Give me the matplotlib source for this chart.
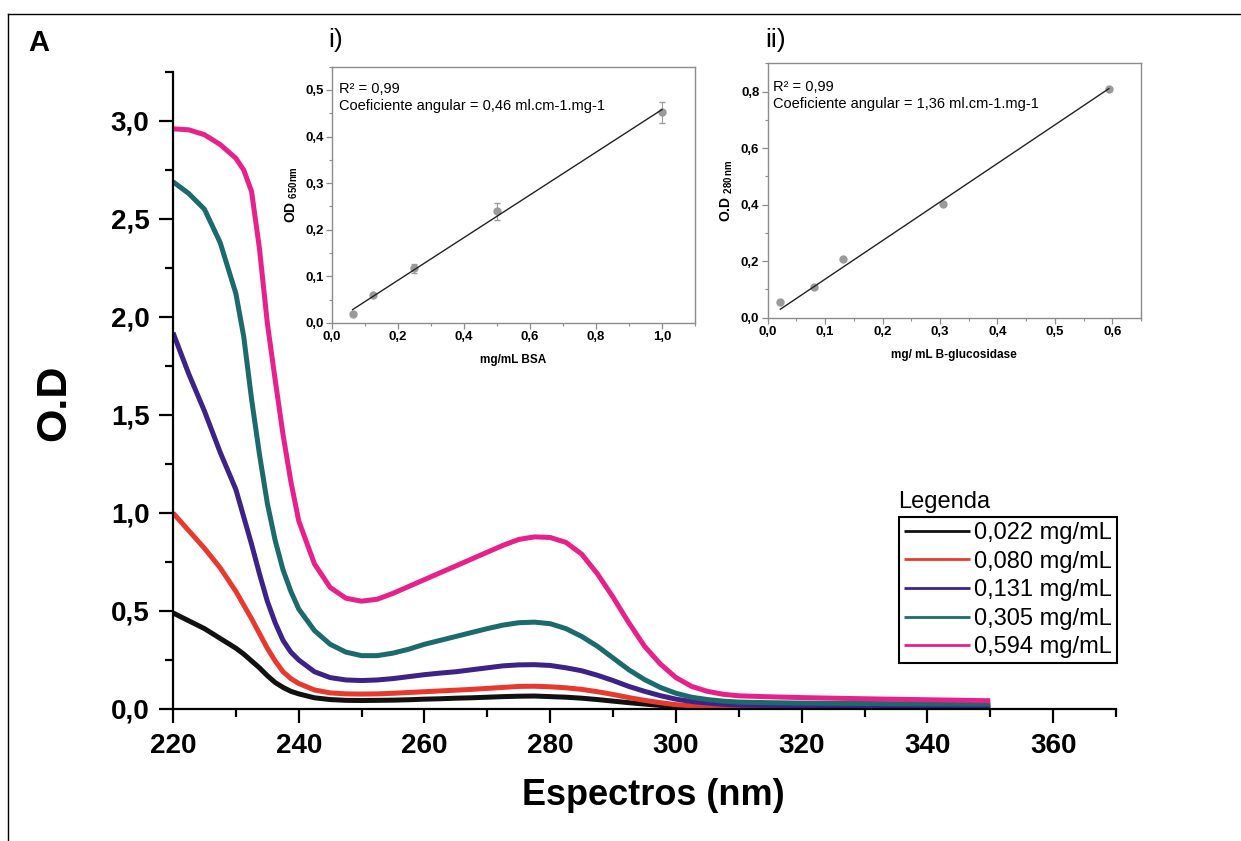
import matplotlib
matplotlib.use("Agg")
import matplotlib.pyplot as plt
from matplotlib.lines import Line2D
from matplotlib.ticker import MultipleLocator, FuncFormatter
import numpy as np

plt.rcParams["font.family"] = ["Liberation Sans", "DejaVu Sans"]
plt.rcParams["mathtext.default"] = "regular"

## Spectra data ##
wavelength = [220, 222.5, 225, 227.5, 230, 231.25, 232.5, 233.75, 235, 236.25, 237.5,
              238.75, 240, 242.5, 245, 247.5, 250, 252.5, 255, 257.5, 260, 262.5, 265,
              267.5, 270, 272.5, 275, 277.5, 280, 282.5, 285, 287.5, 290, 292.5, 295,
              297.5, 300, 302.5, 305, 307.5, 310, 315, 320, 330, 340, 350]
od_0022 = [0.49, 0.45, 0.41, 0.36, 0.31, 0.28, 0.245, 0.21, 0.17, 0.135, 0.11,
           0.09, 0.077, 0.057, 0.048, 0.044, 0.043, 0.044, 0.045, 0.047, 0.05, 0.052, 0.055,
           0.057, 0.06, 0.063, 0.065, 0.066, 0.063, 0.06, 0.055, 0.048, 0.04, 0.032, 0.025,
           0.018, 0.012, 0.008, 0.006, 0.005, 0.004, 0.004, 0.004, 0.004, 0.004, 0.004]
od_0080 = [1.0, 0.91, 0.82, 0.72, 0.60, 0.53, 0.46, 0.385, 0.31, 0.245, 0.19,
           0.155, 0.13, 0.097, 0.082, 0.077, 0.076, 0.077, 0.08, 0.084, 0.088, 0.092, 0.096,
           0.10, 0.105, 0.11, 0.115, 0.116, 0.113, 0.108, 0.10, 0.088, 0.074, 0.058, 0.044,
           0.032, 0.022, 0.016, 0.012, 0.01, 0.008, 0.007, 0.007, 0.007, 0.007, 0.007]
od_0131 = [1.92, 1.71, 1.52, 1.31, 1.12, 0.98, 0.84, 0.69, 0.55, 0.44, 0.35,
           0.29, 0.25, 0.19, 0.16, 0.148, 0.145, 0.148, 0.155, 0.165, 0.175, 0.183, 0.19,
           0.20, 0.21, 0.22, 0.225, 0.226, 0.222, 0.21, 0.195, 0.172, 0.145, 0.115, 0.09,
           0.068, 0.05, 0.038, 0.03, 0.024, 0.02, 0.018, 0.017, 0.016, 0.015, 0.015]
od_0305 = [2.69, 2.63, 2.55, 2.38, 2.12, 1.90, 1.58, 1.30, 1.05, 0.86, 0.71,
           0.60, 0.51, 0.40, 0.33, 0.29, 0.272, 0.272, 0.285, 0.305, 0.33, 0.35, 0.37,
           0.39, 0.41, 0.428, 0.44, 0.443, 0.435, 0.41, 0.37, 0.32, 0.26, 0.20, 0.15,
           0.11, 0.08, 0.06, 0.048, 0.04, 0.035, 0.032, 0.03, 0.028, 0.026, 0.025]
od_0594 = [2.96, 2.955, 2.93, 2.88, 2.81, 2.75, 2.64, 2.35, 1.97, 1.68, 1.40,
           1.16, 0.96, 0.74, 0.62, 0.565, 0.55, 0.56, 0.59, 0.625, 0.66, 0.695, 0.73,
           0.765, 0.80, 0.835, 0.865, 0.878, 0.875, 0.85, 0.79, 0.69, 0.57, 0.44, 0.32,
           0.23, 0.16, 0.115, 0.09, 0.075, 0.067, 0.062, 0.058, 0.052, 0.047, 0.042]

series = [od_0022, od_0080, od_0131, od_0305, od_0594]
series_labels = ["0,022 mg/mL", "0,080 mg/mL", "0,131 mg/mL", "0,305 mg/mL", "0,594 mg/mL"]
series_colors = ["#111111", "#e8392e", "#3d2387", "#1c6b6c", "#e8208a"]

## Standard curves (insets) ##
bsa_conc = [0.0625, 0.125, 0.25, 0.5, 1.0]
bsa_od = [0.02, 0.06, 0.117, 0.24, 0.452]
bsa_err = [0.003, 0.003, 0.01, 0.018, 0.022]

gluc_conc = [0.022, 0.080, 0.131, 0.305, 0.594]
gluc_od = [0.057, 0.108, 0.207, 0.403, 0.81]


def comma(decimals):
    return FuncFormatter(lambda v, pos: f"{v:.{decimals}f}".replace(".", ","))


def origin_fit(x, y):
    # linear fit forced through the origin
    x = np.asarray(x)
    y = np.asarray(y)
    return np.sum(x * y) / np.sum(x * x)


fig = plt.figure(figsize=(12.41, 8.41), dpi=100)

# outer frame (top and left)
fig.add_artist(Line2D([0.0064, 1.0], [0.9834, 0.9834], color="black", lw=1.0))
fig.add_artist(Line2D([0.0064, 0.0064], [0.0, 0.9834], color="black", lw=1.0))
fig.text(0.0314, 0.949, "A", fontsize=21, fontweight="bold", ha="center", va="center")

## Main spectra ##
ax = fig.add_axes([0.1394, 0.157, 0.7599, 0.7574])
for values, label, color in zip(series, series_labels, series_colors):
    ax.plot(wavelength, values, color=color, lw=3.6, label=label,
            solid_capstyle="butt", solid_joinstyle="round")

ax.set_xlim(220, 370)
ax.set_ylim(0, 3.25)
ax.spines["top"].set_visible(False)
ax.spines["right"].set_visible(False)
for side in ["left", "bottom"]:
    ax.spines[side].set_linewidth(1.6)
ax.xaxis.set_major_locator(MultipleLocator(20))
ax.xaxis.set_minor_locator(MultipleLocator(10))
ax.yaxis.set_major_locator(MultipleLocator(0.5))
ax.yaxis.set_minor_locator(MultipleLocator(0.25))
ax.yaxis.set_major_formatter(comma(1))
ax.tick_params(which="major", direction="out", length=10, width=1.6, labelsize=20, pad=7)
ax.tick_params(which="minor", direction="out", length=6, width=1.6)
plt.setp(ax.get_xticklabels() + ax.get_yticklabels(), fontweight="bold")

ax.set_xlabel("Espectros (nm)", fontsize=26, fontweight="bold")
ax.set_ylabel("O.D", fontsize=31, fontweight="bold")
ax.xaxis.set_label_coords(0.509, -0.108)
ax.yaxis.set_label_coords(-0.105, 0.48)

leg = ax.legend(loc="upper right", bbox_to_anchor=(1.001, 0.301), fontsize=17,
                frameon=True, fancybox=False, framealpha=1, edgecolor="black",
                handlelength=2.8, handletextpad=0.2, borderpad=0.2,
                labelspacing=0.28, borderaxespad=0)
leg.get_frame().set_linewidth(1.5)
for handle in leg.get_lines():
    handle.set_linewidth(2.0)
fig.text(0.7236, 0.403, "Legenda", fontsize=17, ha="left", va="center")

## Inset i: BSA ##
ax1 = fig.add_axes([0.2675, 0.616, 0.2925, 0.3047])
ax1.errorbar(bsa_conc, bsa_od, yerr=bsa_err, fmt="o", color="#9a9a9a", ms=5,
             ecolor="#9a9a9a", elinewidth=0.8, capsize=2.5, zorder=2)
slope_bsa = origin_fit(bsa_conc, bsa_od)
ax1.plot([bsa_conc[0], bsa_conc[-1]], [slope_bsa * bsa_conc[0], slope_bsa * bsa_conc[-1]],
         color="#222222", lw=1.0, zorder=3)
ax1.set_xlim(0, 1.1)
ax1.set_ylim(0, 0.55)
ax1.xaxis.set_major_locator(MultipleLocator(0.2))
ax1.xaxis.set_minor_locator(MultipleLocator(0.1))
ax1.yaxis.set_major_locator(MultipleLocator(0.1))
ax1.yaxis.set_minor_locator(MultipleLocator(0.05))
ax1.xaxis.set_major_formatter(comma(1))
ax1.yaxis.set_major_formatter(comma(1))
ax1.set_xlabel("mg/mL BSA", fontsize=8.5, fontweight="bold", labelpad=8)
ax1.set_ylabel("OD $_{650nm}$", fontsize=10, fontweight="bold", labelpad=4)
ax1.text(0.02, 0.94, "R² = 0,99\nCoeficiente angular = 0,46 ml.cm-1.mg-1",
         transform=ax1.transAxes, fontsize=10.5, va="top", linespacing=1.3)
fig.text(0.2643, 0.952, "i)", fontsize=19, ha="left", va="center")

## Inset ii: B-glucosidase ##
ax2 = fig.add_axes([0.6186, 0.6222, 0.3008, 0.3025])
ax2.plot(gluc_conc, gluc_od, "o", color="#9a9a9a", ms=5, zorder=2)
slope_gluc = origin_fit(gluc_conc, gluc_od)
ax2.plot([gluc_conc[0], gluc_conc[-1]], [slope_gluc * gluc_conc[0], slope_gluc * gluc_conc[-1]],
         color="#222222", lw=1.0, zorder=3)
ax2.set_xlim(0, 0.65)
ax2.set_ylim(0, 0.9)
ax2.xaxis.set_major_locator(MultipleLocator(0.1))
ax2.xaxis.set_minor_locator(MultipleLocator(0.05))
ax2.yaxis.set_major_locator(MultipleLocator(0.2))
ax2.yaxis.set_minor_locator(MultipleLocator(0.1))
ax2.xaxis.set_major_formatter(comma(1))
ax2.yaxis.set_major_formatter(comma(1))
ax2.set_xlabel("mg/ mL B-glucosidase", fontsize=8.5, fontweight="bold", labelpad=8)
ax2.set_ylabel("O.D $_{280\\,nm}$", fontsize=10, fontweight="bold", labelpad=4)
ax2.text(0.014, 0.935, "R² = 0,99\nCoeficiente angular = 1,36 ml.cm-1.mg-1",
         transform=ax2.transAxes, fontsize=10.5, va="top", linespacing=1.3)
fig.text(0.6165, 0.952, "ii)", fontsize=19, ha="left", va="center")

for inset in [ax1, ax2]:
    for spine in inset.spines.values():
        spine.set_color("#8c8c8c")
        spine.set_linewidth(1.0)
    inset.tick_params(which="major", direction="out", length=4, width=0.9,
                      color="#8c8c8c", labelsize=9.5, pad=2)
    inset.tick_params(which="minor", direction="out", length=2.5, width=0.8,
                      color="#8c8c8c")
    plt.setp(inset.get_xticklabels() + inset.get_yticklabels(), fontweight="bold")

fig.savefig("out.png", dpi=100)
